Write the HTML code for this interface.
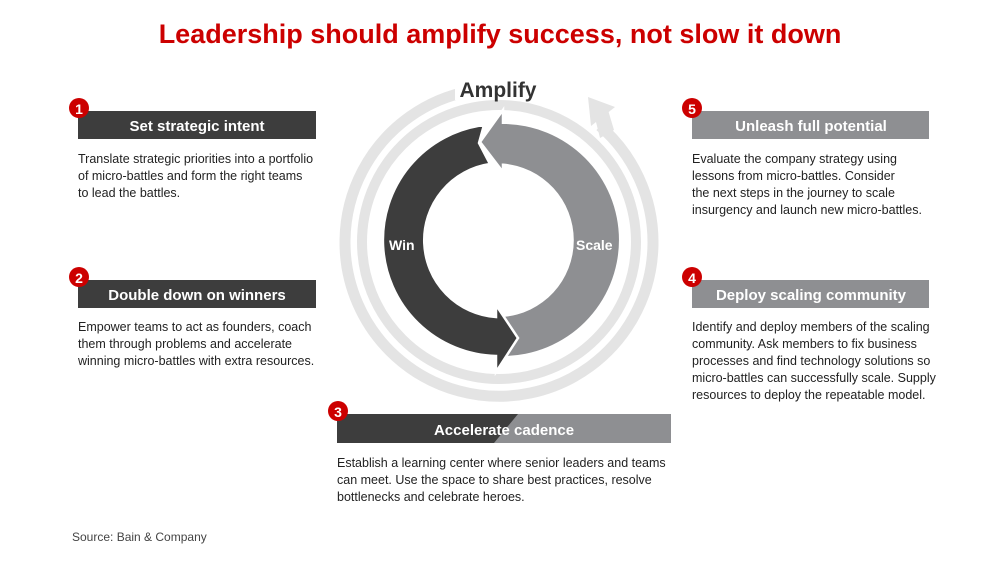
<!DOCTYPE html>
<html><head><meta charset="utf-8"><style>
html,body{margin:0;padding:0;background:#fff;}
svg{display:block;}
text{font-family:"Liberation Sans",Arial,sans-serif;}
</style></head><body>
<svg width="1000" height="561" viewBox="0 0 1000 561" xmlns="http://www.w3.org/2000/svg">
<text x="500" y="43" text-anchor="middle" font-size="27" font-weight="bold" fill="#cc0000">Leadership should amplify success, not slow it down</text>

<!-- light rings -->
<circle cx="499" cy="242" r="137" fill="none" stroke="#e4e4e4" stroke-width="10"/>
<path d="M 470 91 A 154 154 0 1 0 600 126" fill="none" stroke="#e4e4e4" stroke-width="11"/>
<polygon points="595,118 608,110 614,130 600,138" fill="#e4e4e4"/>
<polygon points="588,97 615,107 591,126" fill="#e4e4e4"/>
<rect x="455" y="72" width="90" height="28" fill="#fff"/>
<text x="498" y="97" text-anchor="middle" font-size="21" font-weight="bold" fill="#333">Amplify</text>

<!-- gray body -->
<path d="M 503 356 A 116 116 0 0 0 503 124 L 503 163.5 A 77 77 0 0 1 503 317 Z" fill="#8e8f92"/>
<!-- dark body with arrowhead -->
<path d="M 484 125 A 116 116 0 0 0 496 356 L 496 372 L 518 338 L 496 305 L 496 317 A 77 77 0 0 1 490 164 L 479 143 Z" fill="#3d3d3d" stroke="#fff" stroke-width="2.5" stroke-linejoin="miter"/>
<!-- gray arrowhead -->
<polygon points="503,110 480,142 503,172" fill="#8e8f92" stroke="#fff" stroke-width="2.5"/>
<rect x="501" y="124" width="6" height="39.5" fill="#8e8f92"/>
<text x="389" y="250" font-size="14" font-weight="bold" fill="#fff">Win</text>
<text x="576" y="250" font-size="14" font-weight="bold" fill="#fff">Scale</text>

<!-- box 1 -->
<rect x="78" y="111" width="238" height="28" fill="#3d3d3d"/>
<text x="197" y="131" text-anchor="middle" font-size="15" font-weight="bold" fill="#fff">Set strategic intent</text>
<circle cx="79" cy="108" r="10" fill="#cc0000"/><text x="79" y="114" text-anchor="middle" font-size="14" font-weight="bold" fill="#fff">1</text>
<g font-size="12.5" fill="#222">
<text x="78" y="163">Translate strategic priorities into a portfolio</text>
<text x="78" y="180">of micro-battles and form the right teams</text>
<text x="78" y="197">to lead the battles.</text>
</g>

<!-- box 2 -->
<rect x="78" y="280" width="238" height="28" fill="#3d3d3d"/>
<text x="197" y="300" text-anchor="middle" font-size="15" font-weight="bold" fill="#fff">Double down on winners</text>
<circle cx="79" cy="277" r="10" fill="#cc0000"/><text x="79" y="283" text-anchor="middle" font-size="14" font-weight="bold" fill="#fff">2</text>
<g font-size="12.5" fill="#222">
<text x="78" y="331">Empower teams to act as founders, coach</text>
<text x="78" y="348">them through problems and accelerate</text>
<text x="78" y="365">winning micro-battles with extra resources.</text>
</g>

<!-- box 5 -->
<rect x="692" y="111" width="237" height="28" fill="#8e8f92"/>
<text x="811" y="131" text-anchor="middle" font-size="15" font-weight="bold" fill="#fff">Unleash full potential</text>
<circle cx="692" cy="108" r="10" fill="#cc0000"/><text x="692" y="114" text-anchor="middle" font-size="14" font-weight="bold" fill="#fff">5</text>
<g font-size="12.5" fill="#222">
<text x="692" y="163">Evaluate the company strategy using</text>
<text x="692" y="180">lessons from micro-battles. Consider</text>
<text x="692" y="197">the next steps in the journey to scale</text>
<text x="692" y="214">insurgency and launch new micro-battles.</text>
</g>

<!-- box 4 -->
<rect x="692" y="280" width="237" height="28" fill="#8e8f92"/>
<text x="811" y="300" text-anchor="middle" font-size="15" font-weight="bold" fill="#fff">Deploy scaling community</text>
<circle cx="692" cy="277" r="10" fill="#cc0000"/><text x="692" y="283" text-anchor="middle" font-size="14" font-weight="bold" fill="#fff">4</text>
<g font-size="12.5" fill="#222">
<text x="692" y="331">Identify and deploy members of the scaling</text>
<text x="692" y="348">community. Ask members to fix business</text>
<text x="692" y="365">processes and find technology solutions so</text>
<text x="692" y="382">micro-battles can successfully scale. Supply</text>
<text x="692" y="399">resources to deploy the repeatable model.</text>
</g>

<!-- box 3 -->
<rect x="337" y="414" width="334" height="29" fill="#8e8f92"/>
<polygon points="337,414 518,414 494,443 337,443" fill="#3d3d3d"/>
<text x="504" y="435" text-anchor="middle" font-size="15" font-weight="bold" fill="#fff">Accelerate cadence</text>
<circle cx="338" cy="411" r="10" fill="#cc0000"/><text x="338" y="417" text-anchor="middle" font-size="14" font-weight="bold" fill="#fff">3</text>
<g font-size="12.5" fill="#222">
<text x="337" y="467">Establish a learning center where senior leaders and teams</text>
<text x="337" y="484">can meet. Use the space to share best practices, resolve</text>
<text x="337" y="501">bottlenecks and celebrate heroes.</text>
</g>

<text x="72" y="541" font-size="12" fill="#444">Source: Bain &amp; Company</text>
</svg>
</body></html>
